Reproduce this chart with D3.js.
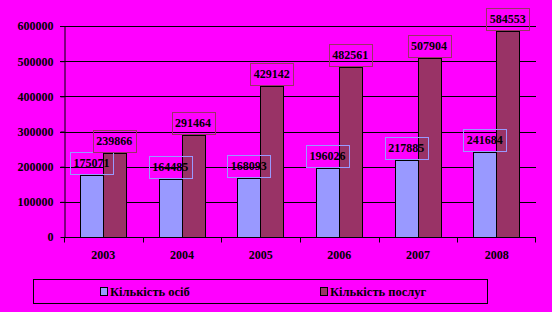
<!DOCTYPE html>
<html>
<head>
<meta charset="utf-8">
<script src="https://cdn.jsdelivr.net/npm/d3@7"></script>
<style>
  body { margin: 0; background: #ff00ff; }
  text { font-family: "Liberation Serif", "Times New Roman", serif; font-weight: bold; }
</style>
</head>
<body>
<div id="chart"></div>
<script>
var years = ['2003', '2004', '2005', '2006', '2007', '2008'];
var persons = [175071, 164485, 168093, 196026, 217885, 241684];
var services = [239866, 291464, 429142, 482561, 507904, 584553];
var seriesNames = ['Кількість осіб', 'Кількість послуг'];
var yTicks = [0, 100000, 200000, 300000, 400000, 500000, 600000];

var chart_width = 552
var chart_height = 312
var colors = ['#9999ff', '#993366']
var labelBorders = ['#9999ff', '#993366']

var svg = d3.select('#chart')
    .append('svg')
    .attr('width', chart_width)
    .attr('height', chart_height);

svg.append('rect')
    .attr('width', chart_width)
    .attr('height', chart_height)
    .attr('fill', '#ff00ff');

var y = d3.scaleLinear().domain([0, 600000]).range([237, 26]);
var x0 = d3.scaleBand().domain(years).range([64, 536]).padding(0);
var bw = x0.bandwidth();
var x1 = d3.scaleBand().domain([0, 1]).range([bw * 0.205, bw * 0.785]).padding(0);

// gridlines
svg.selectAll('line.grid')
    .data(yTicks.slice(1))
    .enter()
    .append('line')
    .attr('x1', 60).attr('x2', 536)
    .attr('y1', function(d){ return Math.round(y(d)) + 0.5; })
    .attr('y2', function(d){ return Math.round(y(d)) + 0.5; })
    .attr('stroke', '#000');

// y axis
var yAxis = svg.append('g')
    .attr('transform', 'translate(64.5,0)')
    .call(d3.axisLeft(y).tickValues(yTicks).tickSize(4).tickSizeOuter(0).tickFormat(d3.format('d')));
yAxis.selectAll('path, line').attr('stroke', '#000');
yAxis.selectAll('text').attr('font-size', 12).attr('fill', '#000').attr('x', -11)
    .style('font-family', '"Liberation Serif", serif').style('font-weight', 'bold');

// bars
var data = [persons, services];
data.forEach(function(vals, s) {
    svg.selectAll('rect.s' + s)
        .data(vals)
        .enter()
        .append('rect')
        .attr('class', 's' + s)
        .attr('x', function(d, i){ return Math.round(x0(years[i]) + x1(s)) + 0.5; })
        .attr('y', function(d){ return Math.round(y(d)) + 0.5; })
        .attr('width', Math.round(x1.bandwidth()))
        .attr('height', function(d){ return Math.round(y(0)) - Math.round(y(d)); })
        .attr('fill', colors[s])
        .attr('stroke', '#000');
});

// x axis
var xAxis = svg.append('g')
    .attr('transform', 'translate(0,' + (Math.round(y(0)) + 0.5) + ')');
xAxis.append('line').attr('x1', 64).attr('x2', 536).attr('stroke', '#000');
xAxis.selectAll('line.tick')
    .data(years.concat(['end']))
    .enter()
    .append('line')
    .attr('x1', function(d){ return d === 'end' ? 535.5 : Math.round(x0(d)) + 0.5; })
    .attr('x2', function(d){ return d === 'end' ? 535.5 : Math.round(x0(d)) + 0.5; })
    .attr('y1', 0).attr('y2', 5)
    .attr('stroke', '#000');
xAxis.selectAll('text')
    .data(years)
    .enter()
    .append('text')
    .text(function(d){ return d; })
    .attr('x', function(d){ return x0(d) + bw / 2; })
    .attr('y', 21)
    .attr('font-size', 12)
    .attr('text-anchor', 'middle')
    .attr('fill', '#000');

// data labels
data.forEach(function(vals, s) {
    vals.forEach(function(d, i) {
        var cx = x0(years[i]) + x1(s) + x1.bandwidth() / 2;
        var bottom = Math.round(y(d)) - 1;
        var g = svg.append('g');
        var t = g.append('text')
            .text(d)
            .attr('x', cx)
            .attr('y', bottom - 7)
            .attr('font-size', 12)
            .attr('text-anchor', 'middle')
            .attr('fill', '#000');
        var w = t.node().getComputedTextLength() + 7;
        g.insert('rect', 'text')
            .attr('x', Math.round(cx - w / 2) + 0.5)
            .attr('y', bottom - 22 + 0.5)
            .attr('width', Math.round(w))
            .attr('height', 22)
            .attr('fill', 'none')
            .attr('stroke', labelBorders[s]);
    });
});

// legend
svg.append('rect')
    .attr('x', 33.5).attr('y', 279.5)
    .attr('width', 454).attr('height', 24)
    .attr('fill', 'none')
    .attr('stroke', '#000');

var legendX = [100, 320];
seriesNames.forEach(function(name, s) {
    svg.append('rect')
        .attr('x', legendX[s] + 0.5).attr('y', 287.5)
        .attr('width', 7).attr('height', 8)
        .attr('fill', colors[s])
        .attr('stroke', '#000');
    svg.append('text')
        .text(name)
        .attr('x', legendX[s] + 10)
        .attr('y', 296)
        .attr('font-size', 12.5)
        .attr('fill', '#000');
});
</script>
</body>
</html>
